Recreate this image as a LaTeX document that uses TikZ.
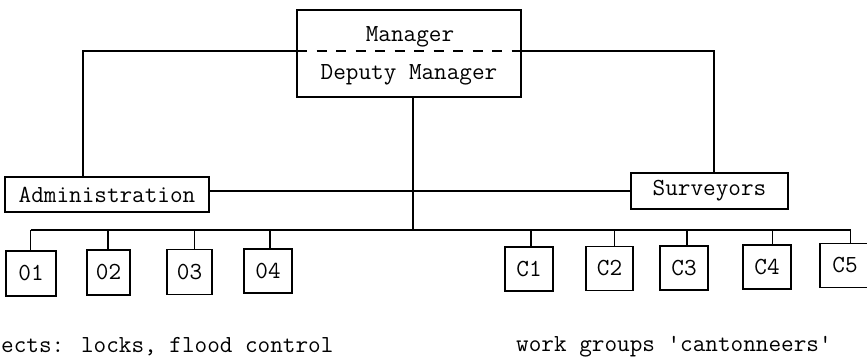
\documentclass[tikz,border=0pt]{standalone}
\usepackage{fontspec}
\begin{document}
\begin{tikzpicture}[x=1pt,y=-1pt,
  every node/.style={font=\ttfamily\fontsize{24.5}{27}\selectfont},
  box/.style={draw,line width=1.4pt,inner sep=0pt,rectangle},
  lab/.style={inner sep=0pt,anchor=base west},
  conn/.style={line width=1.4pt}]
\clip (0,0) rectangle (867,359);
\fill[white] (0,0) rectangle (867,359);
% top box
\node[box,minimum width=224pt,minimum height=87pt] (mgr) at (409,53.5) {};
\node[inner sep=0pt,anchor=base] (mtxt) at (410,41.5) {Manager};
\node[inner sep=0pt,anchor=base] (dtxt) at (409,79) {Deputy Manager};
\coordinate (dl) at (297,51);
\coordinate (dr) at (521,51);
\draw[line width=1.2pt,dash pattern=on 10pt off 9.5pt] (dl) -- (dr);
% second level
\node[box,minimum width=204pt,minimum height=35pt] (adm) at (107,194.5) {Administration};
\node[box,minimum width=157pt,minimum height=36pt] (sur) at (709.5,191) {Surveyors};
% bottom boxes
\node[box,minimum width=50pt,minimum height=45pt] (o1) at (31,273.5) {01};
\node[box,minimum width=43pt,minimum height=45pt] (o2) at (108.5,272.5) {02};
\node[box,minimum width=45pt,minimum height=45pt] (o3) at (189.5,272) {03};
\node[box,minimum width=48pt,minimum height=44pt] (o4) at (268,271) {04};
\node[box,minimum width=48pt,minimum height=44pt] (c1) at (529,269) {C1};
\node[box,minimum width=47pt,minimum height=44pt] (c2) at (609.5,268.5) {C2};
\node[box,minimum width=48pt,minimum height=44pt] (c3) at (684,268) {C3};
\node[box,minimum width=48pt,minimum height=44pt] (c4) at (767,267) {C4};
\node[box,minimum width=50pt,minimum height=44pt] (c5) at (845,265.5) {C5};
% connectors
\coordinate (la) at (83,51);
\coordinate (ra) at (714,51);
\coordinate (trunk) at (413,230);
\draw[conn] (dl) -- (la) -- (la |- adm.north);
\draw[conn] (dr) -- (ra) -- (ra |- sur.north);
\draw[conn] (mgr.south -| trunk) -- (trunk);
\draw[conn] (adm.east |- 0,191) -- (sur.west);
\coordinate (s1) at (30.7,230);
\coordinate (s2) at (108,230);
\coordinate (s3) at (194.7,230);
\coordinate (s4) at (270,230);
\coordinate (t1) at (531,230);
\coordinate (t2) at (614.3,230);
\coordinate (t3) at (687,230);
\coordinate (t4) at (772.7,230);
\coordinate (t5) at (850.7,230);
\draw[conn] (s1) -- (t5);
\draw[conn] (s1) -- (s1 |- o1.north);
\draw[conn] (s2) -- (s2 |- o2.north);
\draw[conn] (s3) -- (s3 |- o3.north);
\draw[conn] (s4) -- (s4 |- o4.north);
\draw[conn] (t1) -- (t1 |- c1.north);
\draw[conn] (t2) -- (t2 |- c2.north);
\draw[conn] (t3) -- (t3 |- c3.north);
\draw[conn] (t4) -- (t4 |- c4.north);
\draw[conn] (t5) -- (t5 |- c5.north);
% captions
\node[lab] (cap1) at (1,352.5) {ects: locks, flood control};
\node[lab] (cap2) at (516,351.5) {work groups 'cantonneers'};
\end{tikzpicture}
\end{document}
